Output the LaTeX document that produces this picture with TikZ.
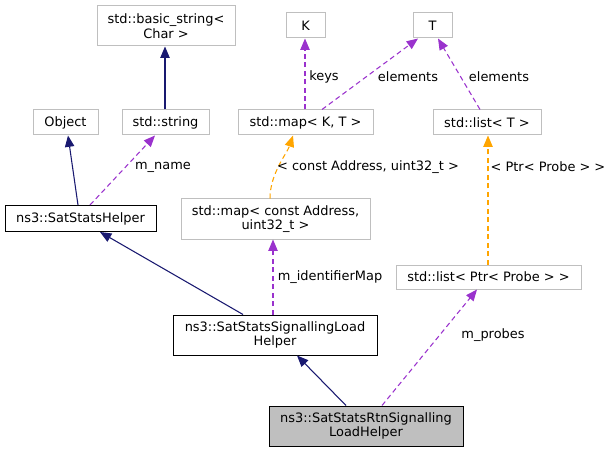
\documentclass[tikz,border=0pt]{standalone}
\usepackage{fontspec}
\setmainfont{DejaVu Sans}
\usetikzlibrary{arrows.meta,calc}
\definecolor{edgeblue}{HTML}{191970}
\definecolor{edgepurple}{HTML}{9A32CD}
\definecolor{edgeorange}{HTML}{FFA500}
\definecolor{boxgray}{HTML}{BFBFBF}
\begin{document}
\begin{tikzpicture}[x=0.75pt, y=-0.75pt,
        font=\fontsize{9.7}{11}\selectfont,
        cls/.style={draw=boxgray, line width=0.75pt, fill=white, inner sep=0pt, align=center},
        clsb/.style={cls, draw=black},
        cur/.style={clsb, fill=boxgray},
        inh/.style={-{Triangle[length=8.5pt,width=7pt]}, edgeblue, line width=0.8pt},
        use/.style={-{Triangle[length=8.5pt,width=7pt]}, edgepurple, line width=0.8pt,
                    dash pattern=on 3.75pt off 2.6pt},
        tpl/.style={use, edgeorange},
        lbl/.style={inner sep=0pt}
    ]
    \useasboundingbox (0,0) rectangle (613,452);

    % classes
    \node[cls, minimum width=103.5pt, minimum height=30pt] (bstr) at (166,26) {std::basic\_string<\\Char >};
    \node[cls, minimum width=48.75pt, minimum height=18.75pt] (obj) at (65.5,122.5) {Object};
    \node[cls, minimum width=65.25pt, minimum height=18.75pt] (str) at (165.5,122.5) {std::string};
    \node[cls, minimum width=29.25pt, minimum height=18.75pt] (tk) at (305.5,25.5) {K};
    \node[cls, minimum width=29.25pt, minimum height=18.75pt] (tt) at (432.5,25.5) {T};
    \node[cls, minimum width=101.25pt, minimum height=18.75pt] (mapkt) at (305.5,122.5) {std::map< K, T >};
    \node[cls, minimum width=81pt, minimum height=18.75pt] (listt) at (487,122.5) {std::list< T >};
    \node[clsb, minimum width=113.25pt, minimum height=19.5pt] (helper) at (80.5,218.5) {ns3::SatStatsHelper};
    \node[cls, minimum width=141.75pt, minimum height=30pt] (mapaddr) at (275.5,219) {std::map< const Address,\\uint32\_t >};
    \node[cls, minimum width=138.75pt, minimum height=18pt] (listprobe) at (488.5,277) {std::list< Ptr< Probe > >};
    \node[clsb, minimum width=153pt, minimum height=30pt] (sig) at (275,335) {ns3::SatStatsSignallingLoad\\Helper};
    \node[cur, minimum width=145.5pt, minimum height=30pt] (rtn) at (366,426) {ns3::SatStatsRtnSignalling\\LoadHelper};

    % inheritance
    \draw[inh] ($(str.north)+(-0.5,0)$) -- ($(bstr.south)+(-1,0)$);
    \draw[inh] ($(helper.north)+(-2.5,0)$) -- ($(obj.south)+(2.5,0)$);
    \draw[inh] ($(sig.north)+(-32,0)$) -- ($(helper.south)+(19.5,0)$);
    \draw[inh] ($(rtn.north)+(-20,0)$) -- ($(sig.south)+(22,0)$);

    % members
    \draw[use] ($(helper.north)+(9.5,0)$) -- ($(str.south)+(-10.5,0)$);
    \node[lbl] (lname) at (163,167) {m\_name};
    \draw[use] ($(mapkt.north)+(-0.5,0)$) -- ($(tk.south)+(-0.5,0)$);
    \node[lbl] (lkeys) at (324,77) {keys};
    \draw[use] ($(mapkt.north)+(16.5,0)$) -- ($(tt.south)+(-14.5,0)$);
    \node[lbl] (lelem) at (408,77) {elements};
    \draw[use] ($(listt.north)+(-7,0)$) -- ($(tt.south)+(5.5,0)$);
    \node[lbl] (lelem2) at (499,77) {elements};
    \draw[use] ($(sig.north)+(-2,0)$) -- ($(mapaddr.south)+(-2.5,0)$);
    \node[lbl] (lidmap) at (330,277) {m\_identifierMap};
    \draw[use] ($(rtn.north)+(16,0)$) -- ($(listprobe.south)+(-11.5,0)$);
    \node[lbl] (lprobes) at (493,335) {m\_probes};

    % template instances
    \draw[tpl] ($(mapaddr.north)+(-5.5,0)$) .. controls +(0,-25) and +(-6,18) .. ($(mapkt.south)+(-12.5,0)$);
    \node[lbl] (laddr) at (368,167) {< const Address, uint32\_t >};
    \draw[tpl] ($(listprobe.north)+(-0.5,0)$) -- ($(listt.south)+(1,0)$);
    \node[lbl] (lptr) at (548,167) {< Ptr< Probe > >};
\end{tikzpicture}
\end{document}
